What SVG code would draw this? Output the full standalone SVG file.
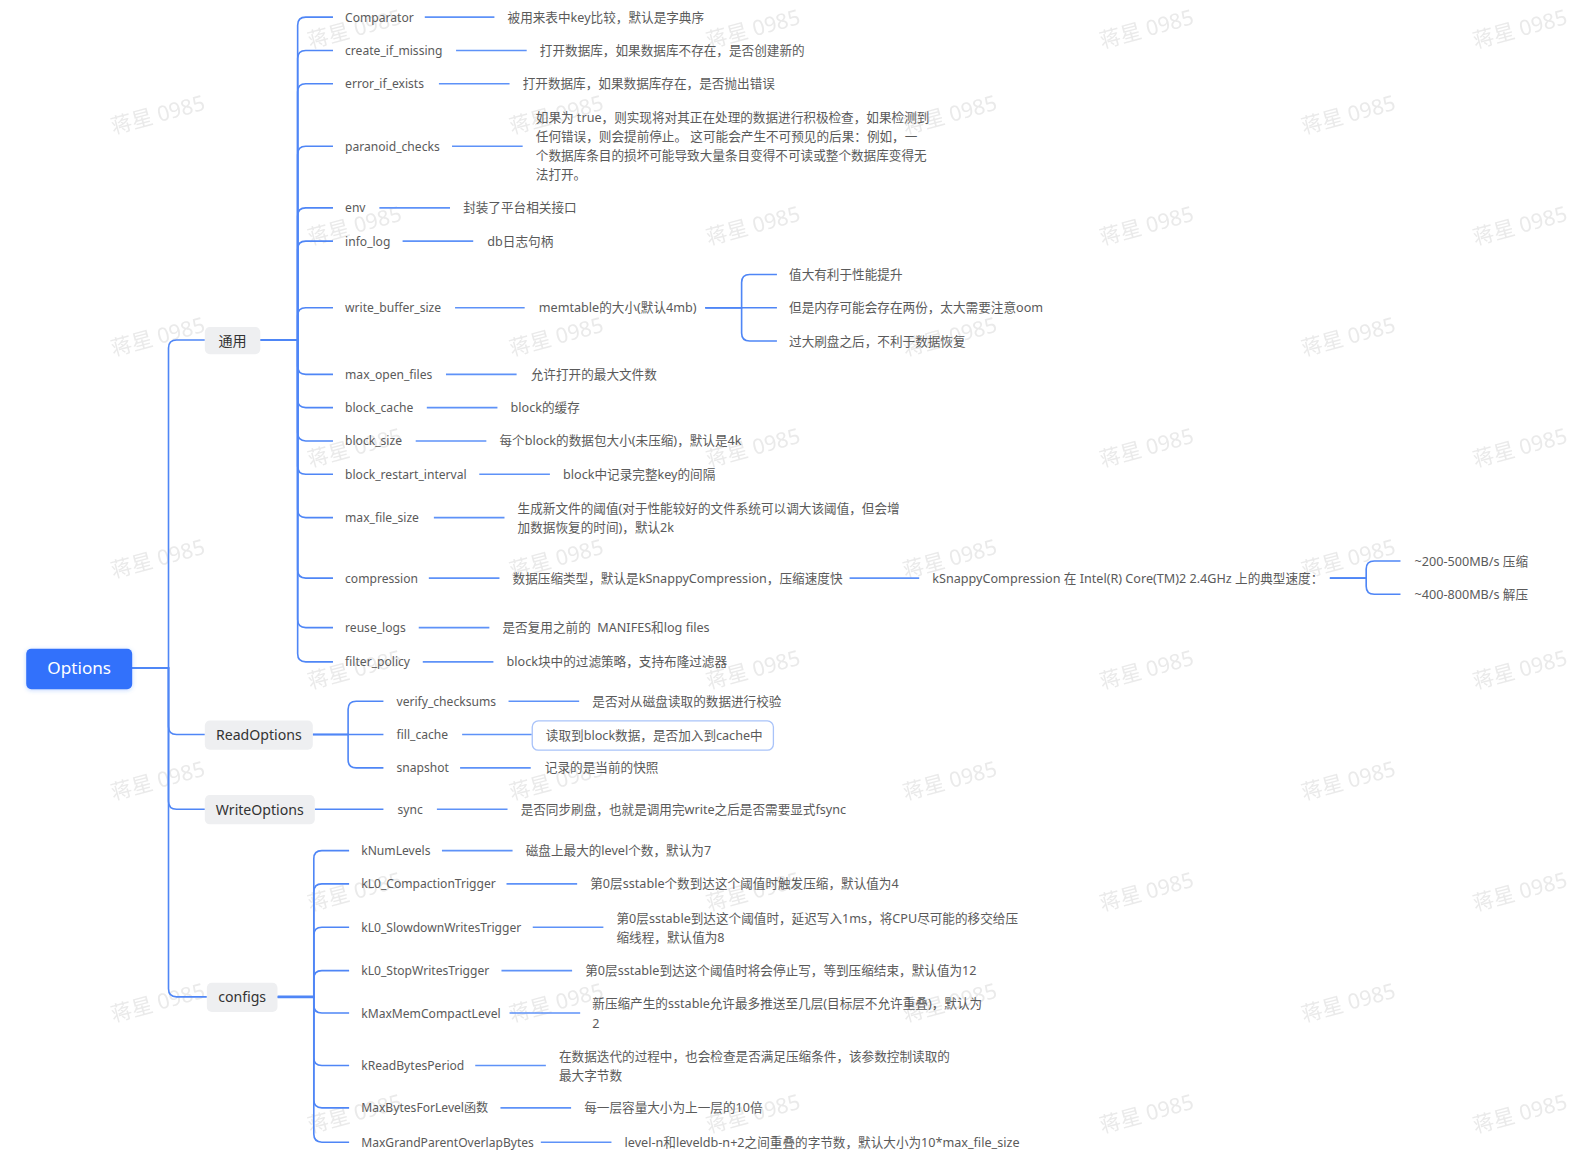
<svg xmlns="http://www.w3.org/2000/svg" width="1582" height="1163" viewBox="0 0 1582 1163">
<defs>
<style>
text{font-family:"Noto Sans","Noto Sans CJK SC",sans-serif;dominant-baseline:central;}
.t{font-size:12px;fill:#5a5a5a;}
.d{font-size:12.5px;fill:#5a5a5a;}
.n{font-size:14px;fill:#333;text-anchor:middle;}
.nb{fill:#eeeff1;}
.c{fill:none;stroke:#4f86f6;stroke-width:1.6;}
.l{fill:none;stroke:#5e92f8;stroke-width:1.6;}
.wm{font-size:21px;fill:#e3e3e3;opacity:0.75;}
</style>
<filter id="sh" x="-20%" y="-30%" width="140%" height="160%">
<feDropShadow dx="0" dy="1" stdDeviation="2" flood-color="#3271fb" flood-opacity="0.3"/>
</filter>
</defs>
<rect width="1582" height="1163" fill="#ffffff"/>
<g transform="scale(1.009)">
<g id="watermarks">
<text class="wm" x="305" y="40" transform="rotate(-15 305 40)">蒋星 0985</text>
<text class="wm" x="700" y="40" transform="rotate(-15 700 40)">蒋星 0985</text>
<text class="wm" x="1090" y="40" transform="rotate(-15 1090 40)">蒋星 0985</text>
<text class="wm" x="1460" y="40" transform="rotate(-15 1460 40)">蒋星 0985</text>
<text class="wm" x="110" y="125" transform="rotate(-15 110 125)">蒋星 0985</text>
<text class="wm" x="505" y="125" transform="rotate(-15 505 125)">蒋星 0985</text>
<text class="wm" x="895" y="125" transform="rotate(-15 895 125)">蒋星 0985</text>
<text class="wm" x="1290" y="125" transform="rotate(-15 1290 125)">蒋星 0985</text>
<text class="wm" x="305" y="235" transform="rotate(-15 305 235)">蒋星 0985</text>
<text class="wm" x="700" y="235" transform="rotate(-15 700 235)">蒋星 0985</text>
<text class="wm" x="1090" y="235" transform="rotate(-15 1090 235)">蒋星 0985</text>
<text class="wm" x="1460" y="235" transform="rotate(-15 1460 235)">蒋星 0985</text>
<text class="wm" x="110" y="345" transform="rotate(-15 110 345)">蒋星 0985</text>
<text class="wm" x="505" y="345" transform="rotate(-15 505 345)">蒋星 0985</text>
<text class="wm" x="895" y="345" transform="rotate(-15 895 345)">蒋星 0985</text>
<text class="wm" x="1290" y="345" transform="rotate(-15 1290 345)">蒋星 0985</text>
<text class="wm" x="305" y="455" transform="rotate(-15 305 455)">蒋星 0985</text>
<text class="wm" x="700" y="455" transform="rotate(-15 700 455)">蒋星 0985</text>
<text class="wm" x="1090" y="455" transform="rotate(-15 1090 455)">蒋星 0985</text>
<text class="wm" x="1460" y="455" transform="rotate(-15 1460 455)">蒋星 0985</text>
<text class="wm" x="110" y="565" transform="rotate(-15 110 565)">蒋星 0985</text>
<text class="wm" x="505" y="565" transform="rotate(-15 505 565)">蒋星 0985</text>
<text class="wm" x="895" y="565" transform="rotate(-15 895 565)">蒋星 0985</text>
<text class="wm" x="1290" y="565" transform="rotate(-15 1290 565)">蒋星 0985</text>
<text class="wm" x="305" y="675" transform="rotate(-15 305 675)">蒋星 0985</text>
<text class="wm" x="700" y="675" transform="rotate(-15 700 675)">蒋星 0985</text>
<text class="wm" x="1090" y="675" transform="rotate(-15 1090 675)">蒋星 0985</text>
<text class="wm" x="1460" y="675" transform="rotate(-15 1460 675)">蒋星 0985</text>
<text class="wm" x="110" y="785" transform="rotate(-15 110 785)">蒋星 0985</text>
<text class="wm" x="505" y="785" transform="rotate(-15 505 785)">蒋星 0985</text>
<text class="wm" x="895" y="785" transform="rotate(-15 895 785)">蒋星 0985</text>
<text class="wm" x="1290" y="785" transform="rotate(-15 1290 785)">蒋星 0985</text>
<text class="wm" x="305" y="895" transform="rotate(-15 305 895)">蒋星 0985</text>
<text class="wm" x="700" y="895" transform="rotate(-15 700 895)">蒋星 0985</text>
<text class="wm" x="1090" y="895" transform="rotate(-15 1090 895)">蒋星 0985</text>
<text class="wm" x="1460" y="895" transform="rotate(-15 1460 895)">蒋星 0985</text>
<text class="wm" x="110" y="1005" transform="rotate(-15 110 1005)">蒋星 0985</text>
<text class="wm" x="505" y="1005" transform="rotate(-15 505 1005)">蒋星 0985</text>
<text class="wm" x="895" y="1005" transform="rotate(-15 895 1005)">蒋星 0985</text>
<text class="wm" x="1290" y="1005" transform="rotate(-15 1290 1005)">蒋星 0985</text>
<text class="wm" x="305" y="1115" transform="rotate(-15 305 1115)">蒋星 0985</text>
<text class="wm" x="700" y="1115" transform="rotate(-15 700 1115)">蒋星 0985</text>
<text class="wm" x="1090" y="1115" transform="rotate(-15 1090 1115)">蒋星 0985</text>
<text class="wm" x="1460" y="1115" transform="rotate(-15 1460 1115)">蒋星 0985</text>
</g>
<g id="connectors">
<path class="c" d="M131,662H167V345Q167,337 175,337H203"/>
<path class="c" d="M131,662H167V720Q167,728 175,728H203"/>
<path class="c" d="M131,662H167V794Q167,802 175,802H203"/>
<path class="c" d="M131,662H167V980Q167,988 175,988H205"/>
<path class="c" d="M258,337H295V25Q295,17 303,17H330"/>
<path class="c" d="M258,337H295V58Q295,50 303,50H330"/>
<path class="c" d="M258,337H295V91Q295,83 303,83H330"/>
<path class="c" d="M258,337H295V153Q295,145 303,145H330"/>
<path class="c" d="M258,337H295V214Q295,206 303,206H330"/>
<path class="c" d="M258,337H295V247Q295,239 303,239H330"/>
<path class="c" d="M258,337H295V313Q295,305 303,305H330"/>
<path class="c" d="M258,337H295V363Q295,371 303,371H330"/>
<path class="c" d="M258,337H295V396Q295,404 303,404H330"/>
<path class="c" d="M258,337H295V429Q295,437 303,437H330"/>
<path class="c" d="M258,337H295V462Q295,470 303,470H330"/>
<path class="c" d="M258,337H295V505Q295,513 303,513H330"/>
<path class="c" d="M258,337H295V565Q295,573 303,573H330"/>
<path class="c" d="M258,337H295V614Q295,622 303,622H330"/>
<path class="c" d="M258,337H295V648Q295,656 303,656H330"/>
<path class="l" d="M421,17H490"/>
<path class="l" d="M452,50H522"/>
<path class="l" d="M435,83H505"/>
<path class="l" d="M448,145H518"/>
<path class="l" d="M376,206H446"/>
<path class="l" d="M399,239H469"/>
<path class="l" d="M451,305H520"/>
<path class="c" d="M699,305H735V280Q735,272 743,272H770"/>
<path class="c" d="M699,305H770"/>
<path class="c" d="M699,305H735V330Q735,338 743,338H770"/>
<path class="l" d="M442,371H512"/>
<path class="l" d="M423,404H493"/>
<path class="l" d="M412,437H482"/>
<path class="l" d="M475,470H545"/>
<path class="l" d="M430,513H500"/>
<path class="l" d="M425,573H495"/>
<path class="l" d="M842,573H911"/>
<path class="c" d="M1318,573H1354V564Q1354,556 1362,556H1388"/>
<path class="c" d="M1318,573H1354V581Q1354,589 1362,589H1388"/>
<path class="l" d="M415,622H485"/>
<path class="l" d="M419,656H489"/>
<path class="c" d="M310,728H345V703Q345,695 353,695H380"/>
<path class="c" d="M310,728H380"/>
<path class="c" d="M310,728H345V753Q345,761 353,761H380"/>
<path class="l" d="M504,695H574"/>
<path class="l" d="M458,728H527"/>
<path class="l" d="M456,761H526"/>
<path class="c" d="M312,802H380"/>
<path class="l" d="M433,802H503"/>
<path class="c" d="M275,988H311V851Q311,843 319,843H346"/>
<path class="c" d="M275,988H311V884Q311,876 319,876H346"/>
<path class="c" d="M275,988H311V927Q311,919 319,919H346"/>
<path class="c" d="M275,988H311V970Q311,962 319,962H346"/>
<path class="c" d="M275,988H311V996Q311,1004 319,1004H346"/>
<path class="c" d="M275,988H311V1048Q311,1056 319,1056H346"/>
<path class="c" d="M275,988H311V1090Q311,1098 319,1098H346"/>
<path class="c" d="M275,988H311V1124Q311,1132 319,1132H346"/>
<path class="c" d="M275,988H311" style="stroke-width:2.6"/>
<path class="l" d="M438,843H508"/>
<path class="l" d="M502,876H572"/>
<path class="l" d="M528,919H598"/>
<path class="l" d="M497,962H567"/>
<path class="l" d="M505,1004H575"/>
<path class="l" d="M471,1056H541"/>
<path class="l" d="M496,1098H566"/>
<path class="l" d="M536,1132H606"/>
</g>
<g id="node-options">
<rect x="26" y="643" width="105" height="40" rx="5" fill="#3271fb" filter="url(#sh)"/>
<text x="78.5" y="662" style="font-size:17px;fill:#fff;text-anchor:middle">Options</text>
</g>
<g id="node-general">
<rect class="nb" x="203" y="324" width="55" height="27" rx="5"/>
<text class="n" x="230.5" y="337">通用</text>
</g>
<g id="node-readoptions">
<rect class="nb" x="203" y="714" width="107" height="29" rx="5"/>
<text class="n" x="256.5" y="728">ReadOptions</text>
</g>
<g id="node-writeoptions">
<rect class="nb" x="203" y="788" width="109" height="29" rx="5"/>
<text class="n" x="257.5" y="802">WriteOptions</text>
</g>
<g id="node-configs">
<rect class="nb" x="205" y="974" width="70" height="29" rx="5"/>
<text class="n" x="240" y="988">configs</text>
</g>
<g id="node-comparator"><text class="t" x="342" y="17">Comparator</text><text class="d" x="503" y="17">被用来表中key比较，默认是字典序</text></g>
<g id="node-create-if-missing"><text class="t" x="342" y="50">create_if_missing</text><text class="d" x="535" y="50">打开数据库，如果数据库不存在，是否创建新的</text></g>
<g id="node-error-if-exists"><text class="t" x="342" y="83">error_if_exists</text><text class="d" x="518" y="83">打开数据库，如果数据库存在，是否抛出错误</text></g>
<g id="node-paranoid-checks"><text class="t" x="342" y="145">paranoid_checks</text>
<text class="d" x="531" y="116">如果为 true，则实现将对其正在处理的数据进行积极检查，如果检测到</text>
<text class="d" x="531" y="135">任何错误，则会提前停止。 这可能会产生不可预见的后果：例如，一</text>
<text class="d" x="531" y="154">个数据库条目的损坏可能导致大量条目变得不可读或整个数据库变得无</text>
<text class="d" x="531" y="173">法打开。</text></g>
<g id="node-env"><text class="t" x="342" y="206">env</text><text class="d" x="459" y="206">封装了平台相关接口</text></g>
<g id="node-info-log"><text class="t" x="342" y="239">info_log</text><text class="d" x="483" y="239">db日志句柄</text></g>
<g id="node-write-buffer-size"><text class="t" x="342" y="305">write_buffer_size</text><text class="d" x="534" y="305">memtable的大小(默认4mb)</text>
<text class="d" x="782" y="272">值大有利于性能提升</text>
<text class="d" x="782" y="305">但是内存可能会存在两份，太大需要注意oom</text>
<text class="d" x="782" y="338">过大刷盘之后，不利于数据恢复</text></g>
<g id="node-max-open-files"><text class="t" x="342" y="371">max_open_files</text><text class="d" x="526" y="371">允许打开的最大文件数</text></g>
<g id="node-block-cache"><text class="t" x="342" y="404">block_cache</text><text class="d" x="506" y="404">block的缓存</text></g>
<g id="node-block-size"><text class="t" x="342" y="437">block_size</text><text class="d" x="495" y="437">每个block的数据包大小(未压缩)，默认是4k</text></g>
<g id="node-block-restart-interval"><text class="t" x="342" y="470">block_restart_interval</text><text class="d" x="558" y="470">block中记录完整key的间隔</text></g>
<g id="node-max-file-size"><text class="t" x="342" y="513">max_file_size</text>
<text class="d" x="513" y="504">生成新文件的阈值(对于性能较好的文件系统可以调大该阈值，但会增</text>
<text class="d" x="513" y="523">加数据恢复的时间)，默认2k</text></g>
<g id="node-compression"><text class="t" x="342" y="573">compression</text><text class="d" x="508" y="573">数据压缩类型，默认是kSnappyCompression，压缩速度快</text>
<text class="d" x="924" y="573">kSnappyCompression 在 Intel(R) Core(TM)2 2.4GHz 上的典型速度：</text>
<text class="d" x="1402" y="556">~200-500MB/s 压缩</text>
<text class="d" x="1402" y="589">~400-800MB/s 解压</text></g>
<g id="node-reuse-logs"><text class="t" x="342" y="622">reuse_logs</text><text class="d" x="498" y="622" xml:space="preserve">是否复用之前的  MANIFES和log files</text></g>
<g id="node-filter-policy"><text class="t" x="342" y="656">filter_policy</text><text class="d" x="502" y="656">block块中的过滤策略，支持布隆过滤器</text></g>
<g id="node-verify-checksums"><text class="t" x="393" y="695">verify_checksums</text><text class="d" x="587" y="695">是否对从磁盘读取的数据进行校验</text></g>
<g id="node-fill-cache"><text class="t" x="393" y="728">fill_cache</text>
<rect x="527.5" y="714.5" width="239" height="29" rx="6" fill="#fff" stroke="#a9c3f9" stroke-width="1.3"/>
<text class="d" x="541" y="729">读取到block数据，是否加入到cache中</text></g>
<g id="node-snapshot"><text class="t" x="393" y="761">snapshot</text><text class="d" x="540" y="761">记录的是当前的快照</text></g>
<g id="node-sync"><text class="t" x="394" y="802">sync</text><text class="d" x="516" y="802">是否同步刷盘，也就是调用完write之后是否需要显式fsync</text></g>
<g id="node-knumlevels"><text class="t" x="358" y="843">kNumLevels</text><text class="d" x="521" y="843">磁盘上最大的level个数，默认为7</text></g>
<g id="node-kl0-compactiontrigger"><text class="t" x="358" y="876">kL0_CompactionTrigger</text><text class="d" x="585" y="876">第0层sstable个数到达这个阈值时触发压缩，默认值为4</text></g>
<g id="node-kl0-slowdownwritestrigger"><text class="t" x="358" y="919">kL0_SlowdownWritesTrigger</text>
<text class="d" x="611" y="910">第0层sstable到达这个阈值时，延迟写入1ms，将CPU尽可能的移交给压</text>
<text class="d" x="611" y="929">缩线程，默认值为8</text></g>
<g id="node-kl0-stopwritestrigger"><text class="t" x="358" y="962">kL0_StopWritesTrigger</text><text class="d" x="580" y="962">第0层sstable到达这个阈值时将会停止写，等到压缩结束，默认值为12</text></g>
<g id="node-kmaxmemcompactlevel"><text class="t" x="358" y="1004">kMaxMemCompactLevel</text>
<text class="d" x="587" y="995">新压缩产生的sstable允许最多推送至几层(目标层不允许重叠)，默认为</text>
<text class="d" x="587" y="1014">2</text></g>
<g id="node-kreadbytesperiod"><text class="t" x="358" y="1056">kReadBytesPeriod</text>
<text class="d" x="554" y="1047">在数据迭代的过程中，也会检查是否满足压缩条件，该参数控制读取的</text>
<text class="d" x="554" y="1066">最大字节数</text></g>
<g id="node-maxbytesforlevel"><text class="t" x="358" y="1098">MaxBytesForLevel函数</text><text class="d" x="579" y="1098">每一层容量大小为上一层的10倍</text></g>
<g id="node-maxgrandparentoverlapbytes"><text class="t" x="358" y="1132">MaxGrandParentOverlapBytes</text><text class="d" x="619" y="1132">level-n和leveldb-n+2之间重叠的字节数，默认大小为10*max_file_size</text></g>
</g>
</svg>
